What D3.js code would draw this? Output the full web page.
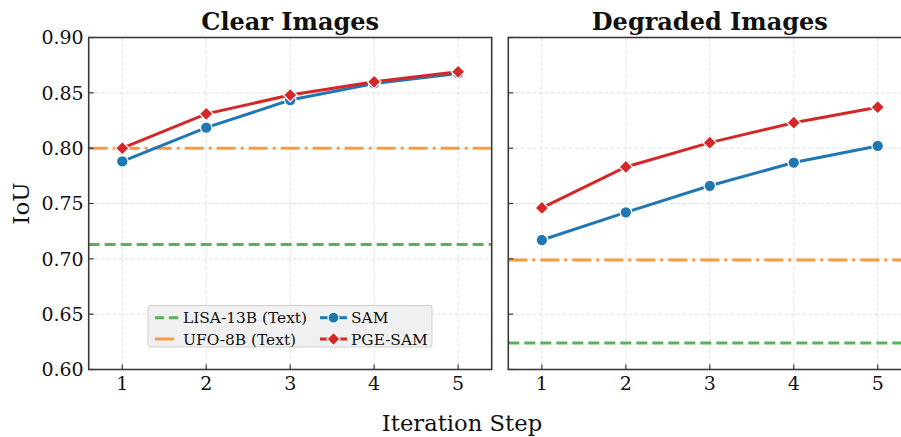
<!DOCTYPE html>
<html>
<head>
<meta charset="utf-8">
<script src="https://cdn.jsdelivr.net/npm/d3@7/dist/d3.min.js"></script>
<style>
  body { margin: 0; background: #fff; }
  text { font-family: "DejaVu Serif", serif; fill: #111; }
</style>
</head>
<body>
<div id="chart"></div>
<script>
// Data
const steps = [1, 2, 3, 4, 5];
const panelTitles = ['Clear Images', 'Degraded Images'];
const samValues = [
  [0.788, 0.8185, 0.8435, 0.8585, 0.8675],
  [0.717, 0.742, 0.766, 0.787, 0.802]
];
const pgeSamValues = [
  [0.800, 0.831, 0.848, 0.860, 0.869],
  [0.746, 0.783, 0.805, 0.823, 0.837]
];
const lisaBaseline = [0.713, 0.624];
const ufoBaseline = [0.800, 0.699];
const yTicks = [0.60, 0.65, 0.70, 0.75, 0.80, 0.85, 0.90];
const legendLabels = ['LISA-13B (Text)', 'UFO-8B (Text)', 'SAM', 'PGE-SAM'];

const width = 901, height = 437;
const panelLefts = [88.7, 508.3];
const panelWidth = 403;
const plotTop = 37.5, plotBottom = 369.5;

const colors = {
  lisa: '#56b356',
  ufo: '#ff993e',
  sam: '#1f77b4',
  pge: '#d62728',
  spine: '#3a3a3a',
  grid: '#dcdcdc'
};

const svg = d3.select('#chart')
  .append('svg')
  .attr('width', width)
  .attr('height', height);

const y = d3.scaleLinear().domain([0.60, 0.90]).range([plotBottom, plotTop]);

const diamond = d3.symbol().type(d3.symbolSquare).size(92);

panelTitles.forEach((title, p) => {
  const x0 = panelLefts[p];
  const x = d3.scaleLinear().domain([0.6, 5.4]).range([x0, x0 + panelWidth]);
  const g = svg.append('g').attr('class', 'panel');

  // grid
  g.append('g').selectAll('line')
    .data(steps)
    .enter().append('line')
    .attr('x1', d => x(d)).attr('x2', d => x(d))
    .attr('y1', plotTop).attr('y2', plotBottom)
    .attr('stroke', colors.grid).attr('stroke-width', 0.9)
    .attr('stroke-dasharray', '4,2');
  g.append('g').selectAll('line')
    .data(yTicks.slice(1, -1))
    .enter().append('line')
    .attr('x1', x0).attr('x2', x0 + panelWidth)
    .attr('y1', d => y(d)).attr('y2', d => y(d))
    .attr('stroke', colors.grid).attr('stroke-width', 0.9)
    .attr('stroke-dasharray', '4,2');

  // baselines
  g.append('line')
    .attr('x1', x0).attr('x2', x0 + panelWidth)
    .attr('y1', y(lisaBaseline[p])).attr('y2', y(lisaBaseline[p]))
    .attr('stroke', colors.lisa).attr('stroke-width', 3)
    .attr('stroke-dasharray', '11,5');
  g.append('line')
    .attr('x1', x0).attr('x2', x0 + panelWidth)
    .attr('y1', y(ufoBaseline[p])).attr('y2', y(ufoBaseline[p]))
    .attr('stroke', colors.ufo).attr('stroke-width', 3)
    .attr('stroke-dasharray', '19,5,3,5');

  const line = d3.line()
    .x((d, i) => x(steps[i]))
    .y(d => y(d));

  // SAM
  g.append('path')
    .datum(samValues[p])
    .attr('d', line)
    .attr('fill', 'none')
    .attr('stroke', colors.sam)
    .attr('stroke-width', 3);
  g.append('g').selectAll('circle')
    .data(samValues[p])
    .enter().append('circle')
    .attr('cx', (d, i) => x(steps[i]))
    .attr('cy', d => y(d))
    .attr('r', 5.8)
    .attr('fill', colors.sam)
    .attr('stroke', '#fff').attr('stroke-width', 1.3);

  // PGE-SAM
  g.append('path')
    .datum(pgeSamValues[p])
    .attr('d', line)
    .attr('fill', 'none')
    .attr('stroke', colors.pge)
    .attr('stroke-width', 3);
  g.append('g').selectAll('path')
    .data(pgeSamValues[p])
    .enter().append('path')
    .attr('d', diamond)
    .attr('transform', (d, i) => `translate(${x(steps[i])},${y(d)}) rotate(45)`)
    .attr('fill', colors.pge)
    .attr('stroke', '#fff').attr('stroke-width', 1.3);

  // ticks (inward)
  g.append('g').selectAll('line')
    .data(steps)
    .enter().append('line')
    .attr('x1', d => x(d)).attr('x2', d => x(d))
    .attr('y1', plotBottom).attr('y2', plotBottom - 5)
    .attr('stroke', colors.spine).attr('stroke-width', 1.2);
  g.append('g').selectAll('line')
    .data(yTicks)
    .enter().append('line')
    .attr('x1', x0).attr('x2', x0 + 5)
    .attr('y1', d => y(d)).attr('y2', d => y(d))
    .attr('stroke', colors.spine).attr('stroke-width', 1.2);

  // spines
  g.append('rect')
    .attr('x', x0).attr('y', plotTop)
    .attr('width', panelWidth).attr('height', plotBottom - plotTop)
    .attr('fill', 'none')
    .attr('stroke', colors.spine).attr('stroke-width', 1.6);

  // x tick labels
  g.append('g').selectAll('text')
    .data(steps)
    .enter().append('text')
    .attr('x', d => x(d))
    .attr('y', 390)
    .attr('text-anchor', 'middle')
    .style('font-size', '19px')
    .text(d => d);

  // y tick labels (left panel only)
  if (p === 0) {
    g.append('g').selectAll('text')
      .data(yTicks)
      .enter().append('text')
      .attr('x', x0 - 5)
      .attr('y', d => y(d))
      .attr('dy', '0.36em')
      .attr('text-anchor', 'end')
      .style('font-size', '19px')
      .text(d => d.toFixed(2));
  }

  // title
  g.append('text')
    .attr('x', x0 + panelWidth / 2)
    .attr('y', 30)
    .attr('text-anchor', 'middle')
    .style('font-size', '24px')
    .style('font-weight', 'bold')
    .text(title);
});

// axis labels
svg.append('text')
  .attr('transform', `translate(29,${(plotTop + plotBottom) / 2}) rotate(-90)`)
  .attr('text-anchor', 'middle')
  .style('font-size', '23px')
  .text('IoU');

svg.append('text')
  .attr('x', 462)
  .attr('y', 431)
  .attr('text-anchor', 'middle')
  .style('font-size', '22.7px')
  .text('Iteration Step');

// legend
const legend = svg.append('g').attr('class', 'legend');
legend.append('rect')
  .attr('x', 148).attr('y', 305.5)
  .attr('width', 284).attr('height', 41.5)
  .attr('rx', 3)
  .attr('fill', '#f0f0f0')
  .attr('stroke', '#cfcfcf').attr('stroke-width', 1);

const legendItems = [
  { label: legendLabels[0], color: colors.lisa, dash: '9,5', marker: null, hx: 155, len: 24, row: 0 },
  { label: legendLabels[1], color: colors.ufo, dash: '19,5,3,5', marker: null, hx: 155, len: 24, row: 1 },
  { label: legendLabels[2], color: colors.sam, dash: null, marker: 'circle', hx: 320, len: 27, row: 0 },
  { label: legendLabels[3], color: colors.pge, dash: null, marker: 'diamond', hx: 320, len: 27, row: 1 }
];
const rowY = [317.7, 339];

legendItems.forEach(item => {
  const cy = rowY[item.row];
  legend.append('line')
    .attr('x1', item.hx).attr('x2', item.hx + item.len)
    .attr('y1', cy).attr('y2', cy)
    .attr('stroke', item.color).attr('stroke-width', 3)
    .attr('stroke-dasharray', item.dash);
  if (item.marker === 'circle') {
    legend.append('circle')
      .attr('cx', item.hx + item.len / 2).attr('cy', cy)
      .attr('r', 5.5)
      .attr('fill', item.color)
      .attr('stroke', '#fff').attr('stroke-width', 1.2);
  } else if (item.marker === 'diamond') {
    legend.append('path')
      .attr('d', d3.symbol().type(d3.symbolSquare).size(85))
      .attr('transform', `translate(${item.hx + item.len / 2},${cy}) rotate(45)`)
      .attr('fill', item.color)
      .attr('stroke', '#fff').attr('stroke-width', 1.2);
  }
  legend.append('text')
    .attr('x', item.hx === 155 ? 183 : 351)
    .attr('y', cy)
    .attr('dy', '0.37em')
    .style('font-size', '15.4px')
    .text(item.label);
});
</script>
</body>
</html>
